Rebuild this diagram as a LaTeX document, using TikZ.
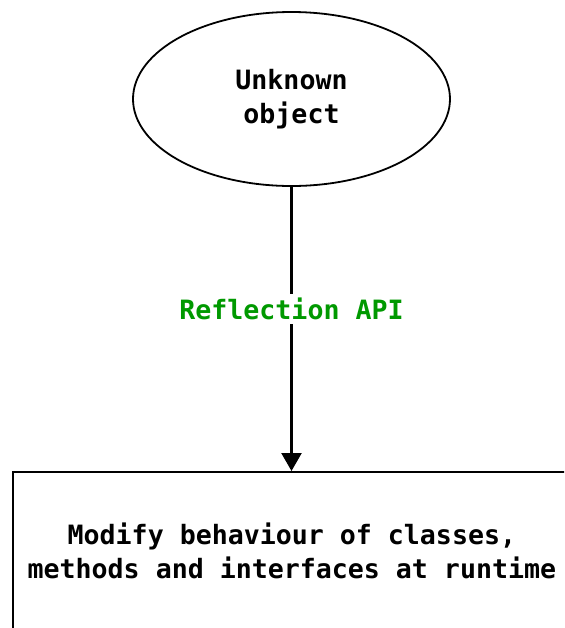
\documentclass[tikz,border=0pt]{standalone}
\usepackage{fontspec}
\setmonofont{DejaVu Sans Mono}
\usetikzlibrary{shapes.geometric}
\usetikzlibrary{arrows.meta}
\usetikzlibrary{positioning}
\definecolor{apigreen}{RGB}{0,153,0}

\begin{document}
\begin{tikzpicture}[x=0.5pt,y=-0.5pt,
  every node/.style={font=\fontsize{13.3}{17}\ttfamily\bfseries},
  objnode/.style={ellipse,draw=black,line width=0.9pt,minimum width=158.5pt,minimum height=87pt,align=center,inner sep=0pt},
  resultnode/.style={rectangle,draw=black,line width=0.9pt,minimum width=279pt,minimum height=79pt,align=center,inner sep=0pt},
  flowarrow/.style={line width=1.2pt,-{Triangle[length=9pt,width=10pt]}}]
\useasboundingbox (0,0) rectangle (564,628);
\begin{scope}
\clip (0,0) rectangle (564,628);
\node[objnode] (obj) at (291.5,99) {Unknown\\object};
\node[resultnode,anchor=north west] (result) at (12,471) {Modify behaviour of classes,\\methods and interfaces at runtime};
\draw[flowarrow] (obj.south) -- (obj.south |- result.north) node[pos=0.43,fill=white,text=apigreen,inner sep=2pt] (api) {Reflection API};
\end{scope}
\end{tikzpicture}
\end{document}
